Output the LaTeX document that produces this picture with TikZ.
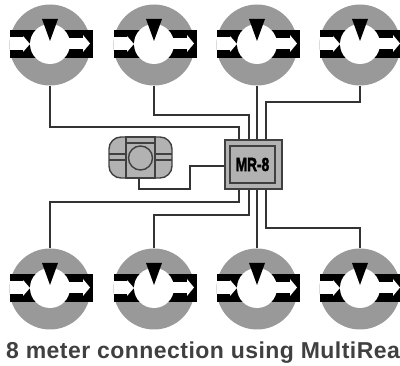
\documentclass[tikz,border=0pt]{standalone}
\usepackage{fontspec}
\setmainfont{Liberation Sans}
\newfontfamily\capfont[LetterSpace=2]{Liberation Sans}
\newfontfamily\mrfont[BoldFeatures={FakeBold=2.5}]{Liberation Sans}
\definecolor{ringgray}{HTML}{999999}
\definecolor{boxgray}{HTML}{B2B2B2}
\definecolor{capgray}{HTML}{404040}
\tikzset{
    meter/.style={circle,fill=ringgray,minimum size=81pt,inner sep=0pt},
    wire/.style={line width=1.3pt,draw=black!80},
    pipe/.style={fill=black},
    flow/.style={fill=white},
    caseline/.style={line width=1.4pt,draw=black!75},
}
\begin{document}
\begin{tikzpicture}[x=1pt,y=-1pt]
    \useasboundingbox (0,0) rectangle (400,366);
    \clip (0,0) rectangle (400,366);

    % Draw the eight meters (top row and bottom row)
    \foreach \name/\cx/\cy in {ta/50/45,tb/154/45,tc/257/45,td/360/45,ba/50/289,bb/154/289,bc/257/289,bd/360/289}{
        \node[meter] (\name) at (\cx,\cy) {};
        \begin{scope}[shift={(\cx,\cy)}]
            \fill[pipe] (-40,-15) rectangle (43,13); % Black pipe
            \fill[flow] (-40,-8) rectangle (-27,5); % Inlet
            \fill[flow] (-27,-9) -- (-20,-1) -- (-27,7) -- cycle; % Inlet arrow
            \fill[flow] (0,-1) circle (20); % Rotor
            \fill[flow] (15,-7) rectangle (33,4); % Outlet
            \fill[flow] (33,-10) -- (40,-1.5) -- (33,7) -- cycle; % Outlet arrow
            \fill[pipe] (-8,-26) -- (8,-26) -- (0,-4) -- cycle; % Pointer
        \end{scope}
    }

    % Draw the MR-8 box
    \node[caseline,fill=boxgray,minimum width=57pt,minimum height=49pt,inner sep=0pt] (mr) at (253.5,164.5) {};
    \node[caseline,fill=boxgray,minimum width=45pt,minimum height=37pt,inner sep=0pt] (mrin) at (252.5,164.5) {};
    \node[inner sep=0pt,xscale=.72,font=\mrfont\bfseries\fontsize{19}{19}\selectfont] (mrname) at (mrin) {MR-8};

    % Draw the modem
    \filldraw[fill=boxgray,caseline,rounded corners=12pt] (109,137) rectangle (172,178);
    \node[caseline,fill=boxgray,minimum width=29pt,minimum height=41pt,inner sep=0pt] (modem) at (140.5,157.5) {};
    \draw[caseline] (126,143) -- (155,143);
    \draw[caseline] (109,154) -- (126,154);
    \draw[caseline] (109,160) -- (126,160);
    \draw[caseline] (155,154) -- (172,154);
    \draw[caseline] (155,160) -- (172,160);
    \draw[caseline] (140.5,158) circle (12);

    % Bends of the wires
    \coordinate (ka) at (239,127);
    \coordinate (kb) at (249,115);
    \coordinate (kd) at (266,102);
    \coordinate (la) at (239,202);
    \coordinate (lb) at (249,215);
    \coordinate (ld) at (266,228);
    \coordinate (pa) at (190,166);
    \coordinate (pb) at (190,189);
    \coordinate (pc) at (139,189);

    % Connect the meters with the box
    \draw[wire] (ta.south) |- (ka) -- (ka |- mr.north);
    \draw[wire] (tb.south) |- (kb) -- (kb |- mr.north);
    \draw[wire] (tc.south) -- (tc.south |- mr.north);
    \draw[wire] (td.south) |- (kd) -- (kd |- mr.north);
    \draw[wire] (ba.north) |- (la) -- (la |- mr.south);
    \draw[wire] (bb.north) |- (lb) -- (lb |- mr.south);
    \draw[wire] (bc.north) -- (bc.north |- mr.south);
    \draw[wire] (bd.north) |- (ld) -- (ld |- mr.south);

    % Connect the modem with the box
    \draw[wire] (mr.west |- pa) -- (pa) -- (pb) -- (pc) -- (pc |- modem.south);

    % Label the picture
    \node[anchor=base west,inner sep=0pt,text=capgray,font=\capfont\bfseries\fontsize{23}{23}\selectfont] (caption) at (6,359) {8 meter connection using MultiRea};
\end{tikzpicture}
\end{document}
